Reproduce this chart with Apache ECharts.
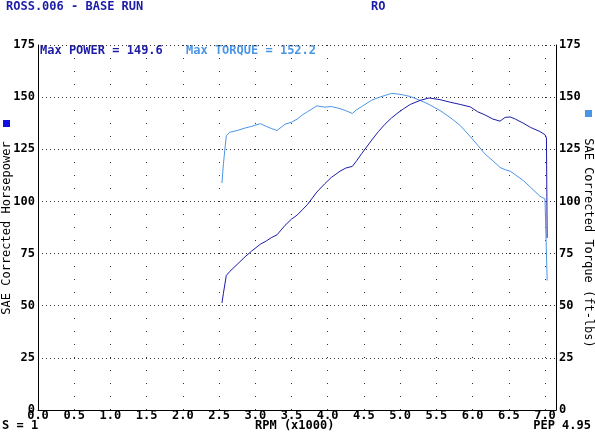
<!DOCTYPE html>
<html>
<head>
<meta charset="utf-8">
<script src="https://cdn.jsdelivr.net/npm/echarts@6/dist/echarts.min.js"></script>
<style>html,body{margin:0;padding:0;background:#fff}#c{width:595px;height:435px}</style>
</head>
<body>
<div id="c"></div>
<script>
// RPM (x1000) sample points
var rpm = [2.54,2.56,2.60,2.65,2.75,2.86,2.95,3.07,3.15,3.22,3.30,3.41,3.50,3.58,3.65,3.72,3.85,3.96,4.05,4.17,4.25,4.34,4.40,4.47,4.61,4.70,4.79,4.88,4.97,5.05,5.14,5.28,5.40,5.55,5.70,5.83,5.97,6.07,6.17,6.28,6.38,6.45,6.52,6.59,6.70,6.80,6.93,7.00,7.02,7.03];
// SAE corrected torque (ft-lbs)
var torque = [108.8,118,131.5,133.2,134,135.2,136,137.3,136,135,134,137,138,139.5,141.5,143,145.8,145.2,145.5,144.5,143.5,142.2,144,145.5,148.6,149.8,150.8,151.8,151.5,151,150.3,148.4,146.5,143.6,140,136.4,131,127,122.8,119.5,116.3,115.2,114.5,112.8,110,106.8,102.5,101.2,100.5,62];
// SAE corrected horsepower
var power = [51.3,56,64.5,66.5,69.8,73.5,76.2,79.5,81,82.6,84,88.5,91.5,93.5,96,98.5,104.5,108.5,111.5,114.5,116,116.8,119.5,123,129.5,133.5,137,140,142.5,144.5,146.5,148.5,149.6,148.8,147.5,146.5,145.3,143,141.5,139.5,138.5,140.3,140.5,139.5,137.5,135.5,133.5,132,130.5,82.5];

var navy = '#1c1ca8', light = '#4a96e6';
var F = '"DejaVu Sans Mono", monospace';

function pairs(xs, ys){ return xs.map(function(x,i){ return [x, ys[i]]; }); }

var chart = echarts.init(document.getElementById('c'));
chart.setOption({
  animation: false,
  backgroundColor: '#fff',
  grid: {left: 38, right: 39, top: 45, bottom: 25},
  xAxis: {
    type: 'value', min: 0, max: 7.152, interval: 0.5,
    axisLine: {show: true, lineStyle: {color: '#000', width: 1}},
    axisTick: {show: false},
    axisLabel: {color: '#000', fontFamily: F, fontWeight: 'bold', fontSize: 12, margin: 0, lineHeight: 12,
      showMaxLabel: false, formatter: function(v){ return v.toFixed(1); }},
    splitLine: {show: true, lineStyle: {color: '#333', width: 1, type: [1, 12]}}
  },
  yAxis: [{
    type: 'value', min: 0, max: 175, interval: 25, position: 'left',
    axisLine: {show: true, lineStyle: {color: '#000', width: 1}},
    axisTick: {show: false},
    axisLabel: {color: '#000', fontFamily: F, fontWeight: 'bold', fontSize: 12, margin: 3},
    splitLine: {show: true, lineStyle: {color: '#333', width: 1, type: [1, 3]}}
  }, {
    type: 'value', min: 0, max: 175, interval: 25, position: 'right',
    axisLine: {show: true, lineStyle: {color: '#000', width: 1}},
    axisTick: {show: false},
    axisLabel: {color: '#000', fontFamily: F, fontWeight: 'bold', fontSize: 12, margin: 3},
    splitLine: {show: false}
  }],
  series: [{
    name: 'Torque', type: 'line', yAxisIndex: 1, data: pairs(rpm, torque),
    showSymbol: false, lineStyle: {color: light, width: 1}, itemStyle: {color: light}
  }, {
    name: 'Power', type: 'line', yAxisIndex: 0, data: pairs(rpm, power),
    showSymbol: false, lineStyle: {color: navy, width: 1}, itemStyle: {color: navy}
  }],
  graphic: [
    {type: 'text', left: 6, top: 1, style: {text: 'ROSS.006 - BASE RUN', fill: navy, font: 'bold 12px ' + F}},
    {type: 'text', left: 371, top: 1, style: {text: 'RO', fill: navy, font: 'bold 12px ' + F}},
    {type: 'text', left: 40, top: 45, style: {text: 'Max POWER = 149.6', fill: navy, font: 'bold 12px ' + F}},
    {type: 'text', left: 186, top: 45, style: {text: 'Max TORQUE = 152.2', fill: light, font: 'bold 12px ' + F}},
    {type: 'text', left: 2, top: 420, style: {text: 'S = 1', fill: '#000', font: 'bold 12px ' + F}},
    {type: 'text', left: 255, top: 420, style: {text: 'RPM (x1000)', fill: '#000', font: 'bold 12px ' + F}},
    {type: 'text', right: 4, top: 420, style: {text: 'PEP 4.95', fill: '#000', font: 'bold 12px ' + F}},
    {type: 'text', x: 7, y: 228, rotation: Math.PI / 2,
      style: {text: 'SAE Corrected Horsepower', fill: '#000', font: '12px ' + F, align: 'center', verticalAlign: 'middle'}},
    {type: 'text', x: 588, y: 243, rotation: -Math.PI / 2,
      style: {text: 'SAE Corrected Torque (ft-lbs)', fill: '#000', font: '12px ' + F, align: 'center', verticalAlign: 'middle'}},
    {type: 'rect', shape: {x: 3, y: 120, width: 7, height: 7}, style: {fill: '#1010e0'}},
    {type: 'rect', shape: {x: 585, y: 110, width: 7, height: 7}, style: {fill: light}}
  ]
});
</script>
</body>
</html>
